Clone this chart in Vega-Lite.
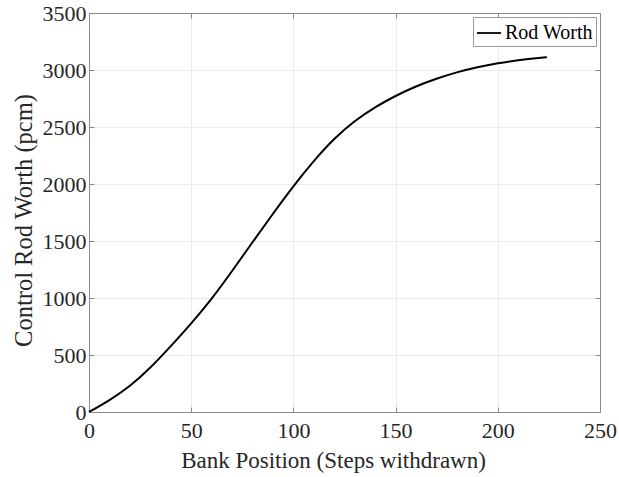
{
  "$schema": "https://vega.github.io/schema/vega-lite/v6.json",
  "width": 511,
  "height": 399,
  "autosize": "none",
  "padding": {"left": 89, "top": 13, "right": 19, "bottom": 65},
  "background": "white",
  "config": {
    "font": "Liberation Serif",
    "view": {"stroke": "#8a8a8a", "strokeWidth": 1},
    "axis": {
      "labelFont": "Liberation Serif",
      "titleFont": "Liberation Serif",
      "labelColor": "#262626",
      "titleColor": "#262626",
      "titleFontWeight": "normal",
      "domainColor": "#8a8a8a",
      "tickColor": "#8a8a8a",
      "gridColor": "#ebebeb",
      "tickSize": -5,
      "labelFontSize": 22,
      "titleFontSize": 23,
      "labelFlush": false,
      "format": "d"
    },
    "legend": {
      "labelFont": "Liberation Serif",
      "labelFontSize": 20,
      "labelColor": "#000000"
    }
  },
  "data": {
    "values": [
      {"steps": 0, "worth": 0},
      {"steps": 10, "worth": 105},
      {"steps": 20, "worth": 230},
      {"steps": 30, "worth": 390},
      {"steps": 40, "worth": 578},
      {"steps": 50, "worth": 778},
      {"steps": 60, "worth": 995},
      {"steps": 70, "worth": 1237},
      {"steps": 80, "worth": 1489},
      {"steps": 90, "worth": 1739},
      {"steps": 100, "worth": 1980},
      {"steps": 110, "worth": 2201},
      {"steps": 120, "worth": 2394},
      {"steps": 130, "worth": 2550},
      {"steps": 140, "worth": 2672},
      {"steps": 150, "worth": 2772},
      {"steps": 160, "worth": 2855},
      {"steps": 170, "worth": 2923},
      {"steps": 180, "worth": 2979},
      {"steps": 190, "worth": 3024},
      {"steps": 200, "worth": 3059},
      {"steps": 210, "worth": 3085},
      {"steps": 220, "worth": 3105},
      {"steps": 224, "worth": 3111}
    ]
  },
  "layer": [
    {
      "mark": {"type": "line", "strokeWidth": 2, "interpolate": "natural"},
      "encoding": {
        "x": {
          "field": "steps", "type": "quantitative",
          "scale": {"domain": [0, 250], "nice": false},
          "axis": {
            "title": "Bank Position (Steps withdrawn)",
            "values": [0, 50, 100, 150, 200, 250],
            "labelPadding": 13,
            "titlePadding": 8,
            "titleX": 244,
            "grid": true
          }
        },
        "y": {
          "field": "worth", "type": "quantitative",
          "scale": {"domain": [0, 3500], "nice": false},
          "axis": {
            "title": "Control Rod Worth (pcm)",
            "values": [0, 500, 1000, 1500, 2000, 2500, 3000, 3500],
            "labelPadding": 8,
            "titlePadding": 6,
            "titleFontSize": 24.5,
            "titleY": 207,
            "grid": true
          }
        },
        "color": {
          "datum": "Rod Worth",
          "scale": {"range": ["#000000"]},
          "legend": {
            "title": null,
            "orient": "top-right",
            "offset": 4,
            "padding": 3,
            "strokeColor": "#9a9a9a",
            "fillColor": "white",
            "symbolType": "stroke",
            "symbolSize": 576,
            "symbolStrokeWidth": 1.8,
            "labelOffset": 3
          }
        }
      }
    },
    {
      "mark": {"type": "line", "opacity": 0},
      "encoding": {
        "x": {
          "field": "steps", "type": "quantitative",
          "axis": {"orient": "top", "title": null, "labels": false, "grid": false, "values": [0, 50, 100, 150, 200, 250]}
        },
        "y": {
          "field": "worth", "type": "quantitative",
          "axis": {"orient": "right", "title": null, "labels": false, "grid": false, "values": [0, 500, 1000, 1500, 2000, 2500, 3000, 3500]}
        }
      }
    }
  ],
  "resolve": {"axis": {"x": "independent", "y": "independent"}}
}
